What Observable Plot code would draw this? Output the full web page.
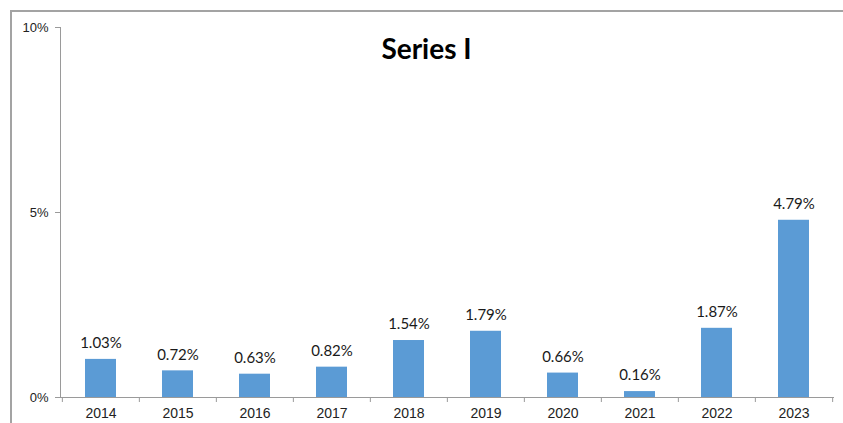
<!DOCTYPE html>
<html>
<head>
<meta charset="utf-8">
<script src="https://cdn.jsdelivr.net/npm/d3@7"></script>
<script src="https://cdn.jsdelivr.net/npm/@observablehq/plot@0.6"></script>
<style>
  html, body { margin: 0; padding: 0; background: #fff; }
  #wrap { position: relative; width: 843px; height: 423px; overflow: hidden; }
  #border { position: absolute; left: 10px; top: 10px; width: 840px; height: 420px;
            border-left: 2px solid #a3a3a3; border-top: 2px solid #a3a3a3; box-sizing: border-box; }
  #title { position: absolute; left: 10px; width: 833px; top: 35px; text-align: center;
           font-family: Lato, "Open Sans", sans-serif; font-weight: bold; font-size: 28px; line-height: 27px; color: #000; }
  #chart { position: absolute; left: 0; top: 0; }
</style>
</head>
<body>
<div id="wrap">
  <div id="chart"></div>
  <div id="border"></div>
  <div id="title">Series I</div>
</div>
<script>
const years = ["2014","2015","2016","2017","2018","2019","2020","2021","2022","2023"];
const values = [1.03, 0.72, 0.63, 0.82, 1.54, 1.79, 0.66, 0.16, 1.87, 4.79];
const yTicks = [0, 5, 10];

const data = years.map((y, i) => ({year: y, value: values[i]}));

const W = 843, H = 423, mL = 60, mR = 10, mT = 27, mB = 26;
const step = (W - mL - mR) / years.length;

const plot = Plot.plot({
  width: W,
  height: H,
  marginLeft: mL,
  marginRight: mR,
  marginTop: mT,
  marginBottom: mB,
  style: {fontFamily: "'Liberation Sans', Arial, sans-serif", background: "transparent", overflow: "visible"},
  x: {domain: years, paddingInner: 0.6, paddingOuter: 0.3, axis: null, label: null},
  y: {domain: [0, 10], axis: null, label: null},
  marks: [
    Plot.barY(data, {x: "year", y: "value", fill: "#5B9BD5"}),
    Plot.text(data, {x: "year", y: "value", text: d => d.value.toFixed(2) + "%", dy: -16,
      fontFamily: "Lato, 'Open Sans', sans-serif", fontSize: 15, fill: "#1a1a1a"}),
    Plot.frame({anchor: "left", stroke: "#9a9a9a"}),
    Plot.frame({anchor: "bottom", stroke: "#9a9a9a"}),
    Plot.axisY({ticks: yTicks, tickFormat: d => d + "%", tickSize: 5, tickPadding: 7, label: null,
      stroke: "#9a9a9a", fill: "#222", fontSize: 13}),
    Plot.axisX({ticks: years, tickSize: 5, tickFormat: () => "", dx: -step / 2, label: null, stroke: "#9a9a9a"}),
    Plot.axisX({ticks: [years[years.length - 1]], tickSize: 5, tickFormat: () => "", dx: step / 2, label: null, stroke: "#9a9a9a"}),
    Plot.axisX({ticks: years, tickSize: 0, tickPadding: 11, label: null, fill: "#222", fontSize: 14})
  ]
});
document.getElementById("chart").appendChild(plot);
</script>
</body>
</html>
